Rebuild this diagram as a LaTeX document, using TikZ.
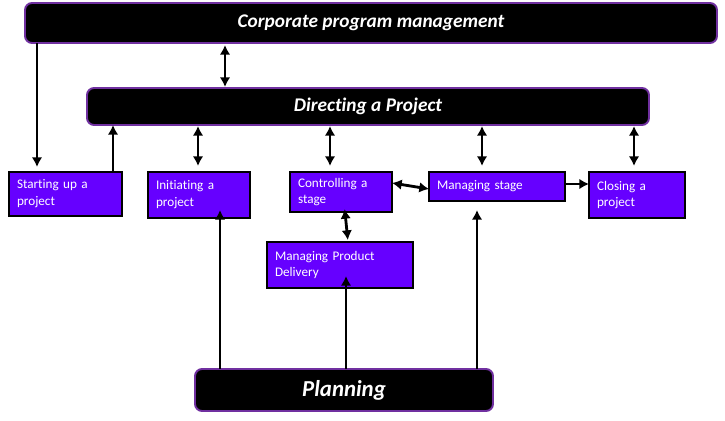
\documentclass[tikz,border=0pt]{standalone}
\usepackage{fontspec}
\setmainfont{Carlito}[Ligatures=NoCommon]
\usetikzlibrary{arrows.meta}
\definecolor{barline}{HTML}{7030A0}
\definecolor{stagefill}{HTML}{6600FF}

\begin{document}
\begin{tikzpicture}[
  bar/.style={draw=barline,line width=1.1pt,fill=black,rounded corners=4pt,text=white,font=\bfseries\itshape,anchor=north west,inner sep=0pt,outer sep=0pt},
  stagebox/.style={draw=black,line width=0.6pt,fill=stagefill,text=white,font=\fontsize{7.5}{9.6}\selectfont,anchor=north west,align=left,inner xsep=0.16cm,inner ysep=0pt,outer sep=0pt},
  arr/.style={-{Latex[length=5.5pt,width=6pt]},line width=1.6pt},
  darr/.style={{Latex[length=5.5pt,width=6pt]}-{Latex[length=5.5pt,width=6pt]},line width=1.6pt}
]
  \path[use as bounding box] (0,0) rectangle (14.5,8.4);

  \node[bar,minimum width=13.84cm,minimum height=0.8cm,font=\fontsize{11}{13}\selectfont\bfseries\itshape] (corp) at (0.5,8.34) {Corporate program management};
  \node[bar,minimum width=11.24cm,minimum height=0.74cm,font=\fontsize{11}{13}\selectfont\bfseries\itshape] (dir) at (1.74,6.64) {Directing a Project};
  \node[bar,minimum width=5.96cm,minimum height=0.84cm,font=\fontsize{13}{15}\selectfont\bfseries\itshape] (plan) at (3.9,1.02) {Planning};

  \node[stagebox,text width=1.94cm,minimum height=0.88cm] (start) at (0.18,4.96) {Starting up a\\project};
  \node[stagebox,text width=1.72cm,minimum height=0.92cm] (init) at (2.96,4.96) {Initiating a\\project};
  \node[stagebox,text width=1.72cm,minimum height=0.8cm] (ctrl) at (5.8,4.96) {Controlling a\\stage};
  \node[stagebox,text width=2.4cm,minimum height=0.58cm] (mstage) at (8.58,4.96) {Managing stage};
  \node[stagebox,text width=1.6cm,minimum height=0.92cm] (close) at (11.78,4.96) {Closing a\\project};
  \node[stagebox,text width=2.6cm,minimum height=0.92cm] (mpd) at (5.34,3.56) {Managing Product\\Delivery};

  \draw[arr,shorten >=0.1cm] (corp.south -| 0.74,0) -- (start.north -| 0.74,0);
  \draw[arr] (start.north -| 2.26,0) -- (dir.south -| 2.26,0);
  \draw[darr,shorten <=0.04cm,shorten >=0.02cm] (corp.south -| 4.5,0) -- (dir.north -| 4.5,0);

  \draw[darr,shorten <=0.02cm,shorten >=0.12cm] (dir.south -| 3.96,0) -- (init.north -| 3.96,0);
  \draw[darr,shorten <=0.02cm,shorten >=0.12cm] (dir.south -| 6.6,0) -- (ctrl.north -| 6.6,0);
  \draw[darr,shorten <=0.02cm,shorten >=0.12cm] (dir.south -| 9.64,0) -- (mstage.north -| 9.64,0);
  \draw[darr,shorten <=0.02cm,shorten >=0.12cm] (dir.south -| 12.68,0) -- (close.north -| 12.68,0);

  \draw[darr] ([yshift=0.18cm]ctrl.east) -- ([yshift=-0.05cm]mstage.west);
  \draw[arr] ([yshift=0.05cm]mstage.east) -- ([yshift=0.05cm]mstage.east -| close.west);
  \draw[darr,shorten <=-0.06cm,shorten >=0.04cm] ([xshift=0.08cm]ctrl.south) -- ([xshift=0.16cm]mpd.north);

  \draw[arr,shorten >=-0.16cm] (plan.north -| 4.4,0) -- (init.south -| 4.4,0);
  \draw[arr,shorten >=-0.24cm] (plan.north -| 6.92,0) -- (mpd.south -| 6.92,0);
  \draw[arr,shorten >=0.18cm] (plan.north -| 9.54,0) -- (mstage.south -| 9.54,0);
\end{tikzpicture}
\end{document}
